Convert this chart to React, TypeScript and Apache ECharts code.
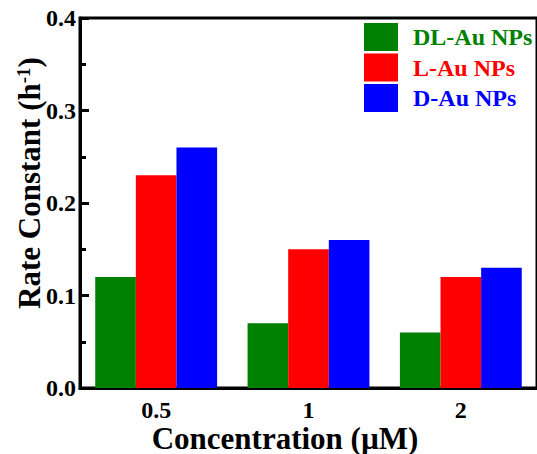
import React, { useEffect, useRef } from "react";
import * as echarts from "echarts";

const categories = ["0.5", "1", "2"];
const dlValues = [0.12, 0.07, 0.06];
const lValues = [0.23, 0.15, 0.12];
const dValues = [0.26, 0.16, 0.13];
const seriesNames = ["DL-Au NPs", "L-Au NPs", "D-Au NPs"];
const seriesColors = ["#008000", "#FF0000", "#0000FF"];

const FONT = "'Liberation Serif', 'Times New Roman', serif";

export default function App() {
  const ref = useRef<HTMLDivElement>(null);
  useEffect(() => {
    if (!ref.current) return;
    const chart = echarts.init(ref.current, null, { renderer: "svg" });
    const values = [dlValues, lValues, dValues];
    chart.setOption({
      animation: false,
      backgroundColor: "#fff",
      textStyle: { fontFamily: FONT },
      grid: {
        left: 80,
        top: 18,
        width: 457.5,
        height: 370,
        show: true,
        borderColor: "#000",
        borderWidth: 3,
        backgroundColor: "transparent",
      },
      legend: {
        orient: "vertical",
        left: 359,
        top: 18,
        itemWidth: 34,
        itemHeight: 28,
        itemGap: 2.5,
        icon: "rect",
        textStyle: {
          fontFamily: FONT,
          fontWeight: "bold",
          fontSize: 24,
          padding: [0, 0, 0, 10],
        },
        data: seriesNames.map((n, i) => ({
          name: n,
          textStyle: { color: seriesColors[i] },
        })),
      },
      xAxis: {
        type: "category",
        data: categories,
        axisLine: { lineStyle: { color: "#000", width: 3 } },
        axisTick: {
          alignWithLabel: true,
          length: 8,
          lineStyle: { color: "#000", width: 3 },
        },
        axisLabel: {
          color: "#000",
          fontFamily: FONT,
          fontWeight: "bold",
          fontSize: 24,
          margin: 11,
          lineHeight: 22,
        },
        splitLine: { show: false },
      },
      yAxis: {
        type: "value",
        min: 0,
        max: 0.4,
        interval: 0.1,
        axisLine: { show: true, lineStyle: { color: "#000", width: 3 } },
        axisTick: {
          show: true,
          inside: true,
          length: 9,
          lineStyle: { color: "#000", width: 3 },
        },
        minorTick: {
          show: true,
          splitNumber: 2,
          length: 6,
          lineStyle: { color: "#000", width: 3 },
        },
        axisLabel: {
          color: "#000",
          fontFamily: FONT,
          fontWeight: "bold",
          fontSize: 24,
          margin: 4,
          formatter: (v: number) => v.toFixed(1),
        },
        splitLine: { show: false },
      },
      series: seriesNames.map((n, i) => ({
        name: n,
        type: "bar",
        data: values[i],
        barGap: "0%",
        barCategoryGap: "20%",
        itemStyle: { color: seriesColors[i] },
      })),
      graphic: [
        {
          type: "text",
          x: 285,
          y: 438,
          style: {
            text: "Concentration (\u00B5M)",
            fontFamily: FONT,
            fontWeight: "bold",
            fontSize: 31,
            lineHeight: 28,
            fill: "#000",
            align: "center",
            verticalAlign: "middle",
          },
        },
        {
          type: "text",
          x: 29,
          y: 183,
          rotation: Math.PI / 2,
          style: {
            text: "{m|Rate Constant (h}{s|-1}{m|)}",
            align: "center",
            verticalAlign: "middle",
            rich: {
              m: {
                fontFamily: FONT,
                fontWeight: "bold",
                fontSize: 31,
                fill: "#000",
                color: "#000",
              },
              s: {
                fontFamily: FONT,
                fontWeight: "bold",
                fontSize: 19,
                fill: "#000",
                color: "#000",
                verticalAlign: "top",
                padding: [0, 0, 12, 0],
              },
            },
          },
        },
      ],
    });
    return () => chart.dispose();
  }, []);
  return (
    <div
      ref={ref}
      style={{ position: "fixed", left: 0, top: 0, width: 537, height: 454 }}
    />
  );
}
